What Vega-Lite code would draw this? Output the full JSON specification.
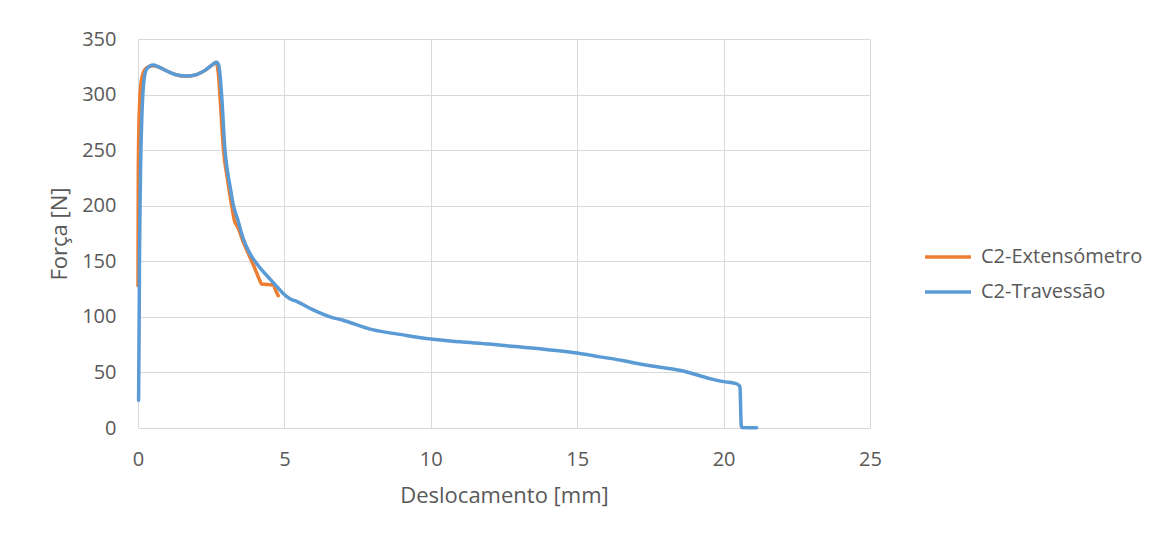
{
  "$schema": "https://vega.github.io/schema/vega-lite/v6.json",
  "width": 732,
  "height": 389,
  "autosize": {"type": "none"},
  "padding": {"left": 138, "top": 39, "right": 304, "bottom": 112},
  "background": "white",
  "config": {
    "view": {"stroke": null},
    "font": "Open Sans",
    "axis": {
      "gridColor": "#d9d9d9",
      "gridWidth": 1,
      "domain": false,
      "ticks": false,
      "labelColor": "#595959",
      "titleColor": "#595959",
      "labelFontSize": 20,
      "titleFontSize": 22,
      "titleFontWeight": "normal",
      "labelFont": "Open Sans",
      "titleFont": "Open Sans",
      "labelFlush": false
    }
  },
  "data": {
    "values": [
      {"serie": "C2-Extensómetro", "x": 0.0, "y": 128},
      {"serie": "C2-Extensómetro", "x": 0.005, "y": 180},
      {"serie": "C2-Extensómetro", "x": 0.01, "y": 230},
      {"serie": "C2-Extensómetro", "x": 0.03, "y": 270},
      {"serie": "C2-Extensómetro", "x": 0.06, "y": 295},
      {"serie": "C2-Extensómetro", "x": 0.1, "y": 310},
      {"serie": "C2-Extensómetro", "x": 0.16, "y": 318},
      {"serie": "C2-Extensómetro", "x": 0.25, "y": 323},
      {"serie": "C2-Extensómetro", "x": 0.4, "y": 325.5},
      {"serie": "C2-Extensómetro", "x": 0.52, "y": 326},
      {"serie": "C2-Extensómetro", "x": 0.7, "y": 324.8},
      {"serie": "C2-Extensómetro", "x": 1.0, "y": 321},
      {"serie": "C2-Extensómetro", "x": 1.3, "y": 317.8},
      {"serie": "C2-Extensómetro", "x": 1.66, "y": 316.5},
      {"serie": "C2-Extensómetro", "x": 2.0, "y": 318},
      {"serie": "C2-Extensómetro", "x": 2.3, "y": 322},
      {"serie": "C2-Extensómetro", "x": 2.55, "y": 327},
      {"serie": "C2-Extensómetro", "x": 2.66, "y": 329},
      {"serie": "C2-Extensómetro", "x": 2.74, "y": 320},
      {"serie": "C2-Extensómetro", "x": 2.82, "y": 290},
      {"serie": "C2-Extensómetro", "x": 2.92, "y": 250},
      {"serie": "C2-Extensómetro", "x": 3.05, "y": 225},
      {"serie": "C2-Extensómetro", "x": 3.2, "y": 200},
      {"serie": "C2-Extensómetro", "x": 3.3, "y": 186},
      {"serie": "C2-Extensómetro", "x": 3.36, "y": 183},
      {"serie": "C2-Extensómetro", "x": 3.42, "y": 180},
      {"serie": "C2-Extensómetro", "x": 3.6, "y": 167},
      {"serie": "C2-Extensómetro", "x": 3.8, "y": 155},
      {"serie": "C2-Extensómetro", "x": 4.0, "y": 143},
      {"serie": "C2-Extensómetro", "x": 4.17, "y": 132},
      {"serie": "C2-Extensómetro", "x": 4.22, "y": 129.5},
      {"serie": "C2-Extensómetro", "x": 4.62, "y": 128.6},
      {"serie": "C2-Extensómetro", "x": 4.7, "y": 124},
      {"serie": "C2-Extensómetro", "x": 4.79, "y": 119},
      {"serie": "C2-Travessão", "x": 0.02, "y": 25},
      {"serie": "C2-Travessão", "x": 0.03, "y": 60},
      {"serie": "C2-Travessão", "x": 0.04, "y": 100},
      {"serie": "C2-Travessão", "x": 0.05, "y": 150},
      {"serie": "C2-Travessão", "x": 0.07, "y": 200},
      {"serie": "C2-Travessão", "x": 0.09, "y": 238},
      {"serie": "C2-Travessão", "x": 0.12, "y": 270},
      {"serie": "C2-Travessão", "x": 0.16, "y": 298},
      {"serie": "C2-Travessão", "x": 0.2, "y": 312},
      {"serie": "C2-Travessão", "x": 0.24, "y": 319},
      {"serie": "C2-Travessão", "x": 0.3, "y": 323},
      {"serie": "C2-Travessão", "x": 0.4, "y": 325.5},
      {"serie": "C2-Travessão", "x": 0.52, "y": 326.5},
      {"serie": "C2-Travessão", "x": 0.7, "y": 325},
      {"serie": "C2-Travessão", "x": 1.0, "y": 321},
      {"serie": "C2-Travessão", "x": 1.3, "y": 317.8},
      {"serie": "C2-Travessão", "x": 1.66, "y": 316.6},
      {"serie": "C2-Travessão", "x": 2.0, "y": 318},
      {"serie": "C2-Travessão", "x": 2.3, "y": 322},
      {"serie": "C2-Travessão", "x": 2.55, "y": 327},
      {"serie": "C2-Travessão", "x": 2.69, "y": 329},
      {"serie": "C2-Travessão", "x": 2.76, "y": 326},
      {"serie": "C2-Travessão", "x": 2.8, "y": 318},
      {"serie": "C2-Travessão", "x": 2.86, "y": 298},
      {"serie": "C2-Travessão", "x": 2.97, "y": 250},
      {"serie": "C2-Travessão", "x": 3.05, "y": 232},
      {"serie": "C2-Travessão", "x": 3.14, "y": 218},
      {"serie": "C2-Travessão", "x": 3.26, "y": 200},
      {"serie": "C2-Travessão", "x": 3.4, "y": 188},
      {"serie": "C2-Travessão", "x": 3.6, "y": 170},
      {"serie": "C2-Travessão", "x": 3.8, "y": 158},
      {"serie": "C2-Travessão", "x": 4.05, "y": 148},
      {"serie": "C2-Travessão", "x": 4.3, "y": 140},
      {"serie": "C2-Travessão", "x": 4.51, "y": 134},
      {"serie": "C2-Travessão", "x": 4.75, "y": 127},
      {"serie": "C2-Travessão", "x": 4.96, "y": 121},
      {"serie": "C2-Travessão", "x": 5.2, "y": 116},
      {"serie": "C2-Travessão", "x": 5.42, "y": 114},
      {"serie": "C2-Travessão", "x": 5.6, "y": 111.5},
      {"serie": "C2-Travessão", "x": 6.0, "y": 106},
      {"serie": "C2-Travessão", "x": 6.56, "y": 100},
      {"serie": "C2-Travessão", "x": 7.0, "y": 97},
      {"serie": "C2-Travessão", "x": 8.0, "y": 88.5},
      {"serie": "C2-Travessão", "x": 9.0, "y": 84},
      {"serie": "C2-Travessão", "x": 10.0, "y": 80},
      {"serie": "C2-Travessão", "x": 11.0, "y": 77.5},
      {"serie": "C2-Travessão", "x": 12.0, "y": 75.5},
      {"serie": "C2-Travessão", "x": 13.0, "y": 73},
      {"serie": "C2-Travessão", "x": 14.0, "y": 70.5},
      {"serie": "C2-Travessão", "x": 15.0, "y": 67.5},
      {"serie": "C2-Travessão", "x": 15.78, "y": 64},
      {"serie": "C2-Travessão", "x": 16.5, "y": 61},
      {"serie": "C2-Travessão", "x": 16.92, "y": 58.7},
      {"serie": "C2-Travessão", "x": 17.5, "y": 56},
      {"serie": "C2-Travessão", "x": 18.0, "y": 54},
      {"serie": "C2-Travessão", "x": 18.62, "y": 51.3},
      {"serie": "C2-Travessão", "x": 19.19, "y": 47},
      {"serie": "C2-Travessão", "x": 19.6, "y": 44},
      {"serie": "C2-Travessão", "x": 20.0, "y": 41.7},
      {"serie": "C2-Travessão", "x": 20.39, "y": 40.2},
      {"serie": "C2-Travessão", "x": 20.52, "y": 38.5},
      {"serie": "C2-Travessão", "x": 20.56, "y": 36.6},
      {"serie": "C2-Travessão", "x": 20.58, "y": 20},
      {"serie": "C2-Travessão", "x": 20.6, "y": 3},
      {"serie": "C2-Travessão", "x": 20.62, "y": 0.5},
      {"serie": "C2-Travessão", "x": 21.13, "y": 0.3}
    ]
  },
  "mark": {"type": "line", "strokeWidth": 3.5, "strokeCap": "round", "strokeJoin": "round", "interpolate": "monotone"},
  "encoding": {
    "x": {
      "field": "x",
      "type": "quantitative",
      "title": "Deslocamento [mm]",
      "scale": {"domain": [0, 25], "nice": false},
      "axis": {"values": [0, 5, 10, 15, 20, 25], "labelPadding": 21, "titlePadding": 16}
    },
    "y": {
      "field": "y",
      "type": "quantitative",
      "title": "Força [N]",
      "scale": {"domain": [0, 350], "nice": false},
      "axis": {"values": [0, 50, 100, 150, 200, 250, 300, 350], "labelPadding": 22, "titlePadding": 10}
    },
    "color": {
      "field": "serie",
      "type": "nominal",
      "scale": {"domain": ["C2-Extensómetro", "C2-Travessão"], "range": ["#ED7D31", "#5B9BD5"]},
      "legend": {
        "title": null,
        "orient": "none",
        "legendX": 785,
        "legendY": 193,
        "symbolType": "stroke",
        "symbolSize": 2116,
        "symbolStrokeWidth": 3.5,
        "labelFontSize": 20,
        "labelLimit": 400,
        "labelColor": "#595959",
        "labelFont": "Open Sans",
        "labelOffset": 8,
        "rowPadding": 0,
        "padding": 0
      }
    },
    "order": {"field": "x", "type": "quantitative"}
  }
}
